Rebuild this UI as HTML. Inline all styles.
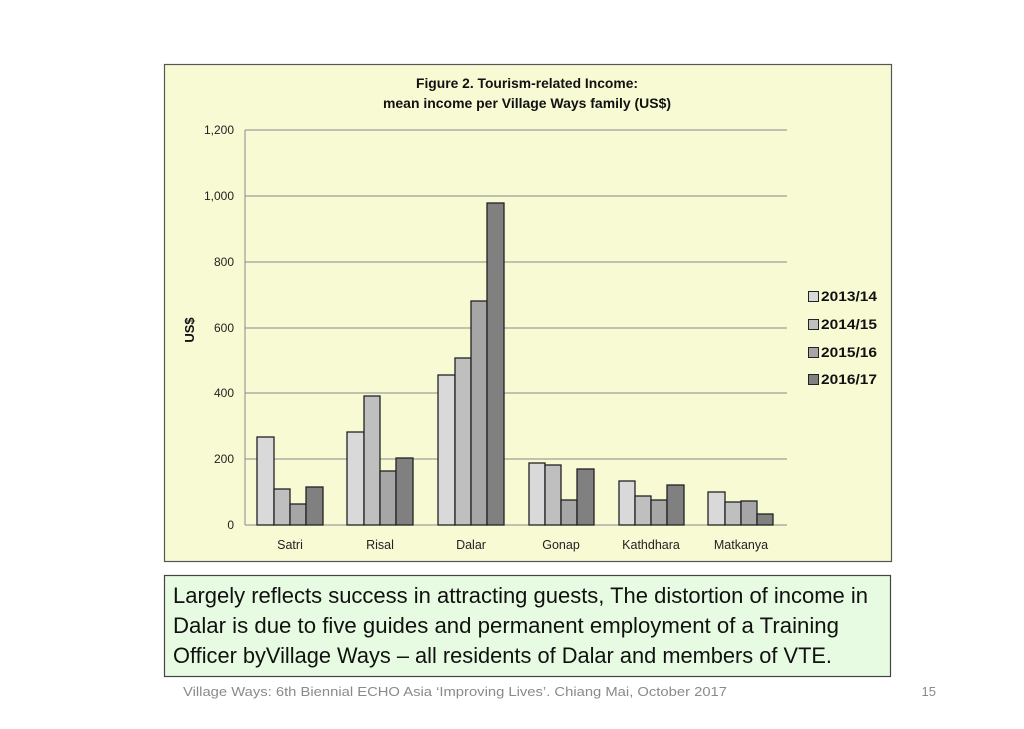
<!DOCTYPE html>
<html><head><meta charset="utf-8"><style>
body{margin:0;width:1024px;height:724px;background:#fff;overflow:hidden;font-family:"Liberation Sans",sans-serif}
</style></head><body>
<svg width="1024" height="724" xmlns="http://www.w3.org/2000/svg" font-family="Liberation Sans, sans-serif">
<rect x="164.5" y="64.5" width="727" height="497" fill="#f8fad4" stroke="#555" stroke-width="1.2"/>
<text x="527" y="88" font-size="13.5" font-weight="bold" text-anchor="middle" fill="#111" textLength="222" lengthAdjust="spacingAndGlyphs">Figure 2. Tourism-related Income:</text>
<text x="527" y="108" font-size="13.5" font-weight="bold" text-anchor="middle" fill="#111" textLength="288" lengthAdjust="spacingAndGlyphs">mean income per Village Ways family (US$)</text>
<g stroke="#888" stroke-width="1">
<line x1="245" y1="130" x2="787" y2="130"/><line x1="245" y1="196" x2="787" y2="196"/>
<line x1="245" y1="262" x2="787" y2="262"/><line x1="245" y1="328" x2="787" y2="328"/>
<line x1="245" y1="393" x2="787" y2="393"/><line x1="245" y1="459" x2="787" y2="459"/>
<line x1="245" y1="525" x2="787" y2="525"/><line x1="245" y1="130" x2="245" y2="525"/>
</g>
<g font-size="12" fill="#222" text-anchor="end">
<text x="234" y="134">1,200</text><text x="234" y="200">1,000</text><text x="234" y="266">800</text>
<text x="234" y="332">600</text><text x="234" y="397">400</text><text x="234" y="463">200</text><text x="234" y="529">0</text>
</g>
<text x="0" y="0" font-size="13" font-weight="bold" transform="translate(194,330) rotate(-90)" text-anchor="middle" fill="#111">US$</text>
<g stroke="#222" stroke-width="1.3">
<rect x="257" y="437" width="17" height="88" fill="#d9d9d9"/><rect x="274" y="489" width="16" height="36" fill="#bfbfbf"/><rect x="290" y="504" width="16" height="21" fill="#a6a6a6"/><rect x="306" y="487" width="17" height="38" fill="#808080"/>
<rect x="347" y="432" width="17" height="93" fill="#d9d9d9"/><rect x="364" y="396" width="16" height="129" fill="#bfbfbf"/><rect x="380" y="471" width="16" height="54" fill="#a6a6a6"/><rect x="396" y="458" width="17" height="67" fill="#808080"/>
<rect x="438" y="375" width="17" height="150" fill="#d9d9d9"/><rect x="455" y="358" width="16" height="167" fill="#bfbfbf"/><rect x="471" y="301" width="16" height="224" fill="#a6a6a6"/><rect x="487" y="203" width="17" height="322" fill="#808080"/>
<rect x="529" y="463" width="16" height="62" fill="#d9d9d9"/><rect x="545" y="465" width="16" height="60" fill="#bfbfbf"/><rect x="561" y="500" width="16" height="25" fill="#a6a6a6"/><rect x="577" y="469" width="17" height="56" fill="#808080"/>
<rect x="619" y="481" width="16" height="44" fill="#d9d9d9"/><rect x="635" y="496" width="16" height="29" fill="#bfbfbf"/><rect x="651" y="500" width="16" height="25" fill="#a6a6a6"/><rect x="667" y="485" width="17" height="40" fill="#808080"/>
<rect x="708" y="492" width="17" height="33" fill="#d9d9d9"/><rect x="725" y="502" width="16" height="23" fill="#bfbfbf"/><rect x="741" y="501" width="16" height="24" fill="#a6a6a6"/><rect x="757" y="514" width="16" height="11" fill="#808080"/>
</g>
<g font-size="12.5" fill="#222" text-anchor="middle">
<text x="290" y="549">Satri</text><text x="380" y="549">Risal</text><text x="471" y="549">Dalar</text>
<text x="561" y="549">Gonap</text><text x="651" y="549">Kathdhara</text><text x="741" y="549">Matkanya</text>
</g>
<g stroke="#222" stroke-width="1">
<rect x="808.5" y="291.5" width="10" height="10" fill="#d9d9d9"/><rect x="808.5" y="319.5" width="10" height="10" fill="#bfbfbf"/>
<rect x="808.5" y="347.5" width="10" height="10" fill="#a6a6a6"/><rect x="808.5" y="374.5" width="10" height="10" fill="#808080"/>
</g>
<g font-size="13.5" font-weight="bold" fill="#111">
<text x="821" y="301" textLength="56" lengthAdjust="spacingAndGlyphs">2013/14</text><text x="821" y="329" textLength="56" lengthAdjust="spacingAndGlyphs">2014/15</text><text x="821" y="357" textLength="56" lengthAdjust="spacingAndGlyphs">2015/16</text><text x="821" y="384" textLength="56" lengthAdjust="spacingAndGlyphs">2016/17</text>
</g>
<rect x="164.5" y="575.5" width="726" height="101" fill="#e6fbe1" stroke="#444" stroke-width="1.2"/>
<g font-size="22" fill="#111">
<text x="173" y="603" textLength="695" lengthAdjust="spacingAndGlyphs">Largely reflects success in attracting guests, The distortion of income in</text>
<text x="173" y="633" textLength="666" lengthAdjust="spacingAndGlyphs">Dalar is due to five guides and permanent employment of a Training</text>
<text x="173" y="663" textLength="659" lengthAdjust="spacingAndGlyphs">Officer byVillage Ways – all residents of Dalar and members of  VTE.</text>
</g>
<text x="183" y="696" font-size="13" fill="#8a8a8a" textLength="544" lengthAdjust="spacingAndGlyphs">Village Ways: 6th Biennial ECHO Asia ‘Improving Lives’. Chiang Mai, October 2017</text>
<text x="936" y="696" font-size="13" fill="#8a8a8a" text-anchor="end">15</text>
</svg>
</body></html>
